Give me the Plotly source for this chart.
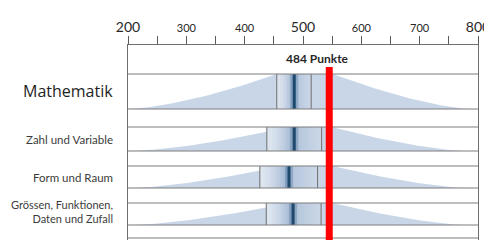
import numpy as np
import plotly.graph_objects as go

# ---- data ----
categories = ["Mathematik", "Zahl und Variable", "Form und Raum",
              "Grössen, Funktionen,<br>Daten und Zufall"]
means = [485, 485, 476, 483]
lower = [455, 438, 426, 437]
upper = [514, 532, 525, 531]
tail_start = [200, 205, 205, 205]
tail_end = [786, 776, 780, 778]
shoulder = [551, 550, 550, 550]
reference_value = 545
mean_label = "484 Punkte"
tick_vals = [200, 300, 400, 500, 600, 700, 800]
tick_big = [200, 500, 800]

# ---- layout constants (y in page pixels, reversed axis) ----
band_top = [74, 127, 166, 203]
band_bot = [109, 151, 188, 225]
row_lines = [74, 109, 127, 151, 166, 188, 203, 225, 238]
left_frac = [1.0, 0.8, 0.8, 0.8]
label_size = [16, 11.5, 11.5, 11]
label_font = ["Open Sans", "Lato", "Lato", "Lato"]
label_color = ["rgb(30,30,30)", "rgb(60,60,60)", "rgb(60,60,60)", "rgb(60,60,60)"]
label_y = [91, 139, 177, 211]

fill_col = "rgb(200,214,232)"
fig = go.Figure()

for i in range(len(categories)):
    top, bot = band_top[i], band_bot[i]
    h = bot - top
    # tail polygon
    t = np.linspace(0, 1, 40)
    xl = tail_start[i] + (lower[i] - tail_start[i]) * t
    yl = bot - h * left_frac[i] * t ** 1.5
    xr = shoulder[i] + (tail_end[i] - shoulder[i]) * t
    yr = bot - h * (1 - t) ** 1.45
    xs = np.concatenate([[tail_start[i]], xl, [lower[i], upper[i], shoulder[i]], xr, [tail_end[i]]])
    ys = np.concatenate([[bot], yl, [top, top, top], yr, [bot]])
    fig.add_trace(go.Scatter(x=xs, y=ys, fill="toself", fillcolor=fill_col,
                             line=dict(width=0), mode="lines", hoverinfo="skip",
                             showlegend=False))
    # gradient box (vertical strips)
    n = 20
    edges = np.linspace(lower[i], upper[i], n + 1)
    for k in range(n):
        xc = 0.5 * (edges[k] + edges[k + 1])
        if xc < means[i]:
            s = (xc - lower[i]) / (means[i] - lower[i])
            a = 0.12 + 0.6 * s ** 1.6
        else:
            s = (xc - means[i]) / (upper[i] - means[i])
            a = 0.5 - 0.22 * s
        c0 = np.array([238, 242, 248])
        c1 = np.array([118, 150, 190])
        c = (c0 + (c1 - c0) * a).astype(int)
        x0, x1 = edges[k], edges[k + 1] + 0.4
        fig.add_trace(go.Scatter(x=[x0, x1, x1, x0, x0], y=[top, top, bot, bot, top],
                                 fill="toself", fillcolor=f"rgb({c[0]},{c[1]},{c[2]})",
                                 line=dict(width=0), mode="lines", hoverinfo="skip",
                                 showlegend=False))
    # thin interval lines
    for v in (lower[i], upper[i]):
        fig.add_trace(go.Scatter(x=[v, v], y=[top, bot], mode="lines",
                                 line=dict(color="rgb(110,110,110)", width=1),
                                 hoverinfo="skip", showlegend=False))
    # mean line with halo
    fig.add_trace(go.Scatter(x=[means[i], means[i]], y=[top, bot], mode="lines",
                             line=dict(color="rgba(70,110,150,0.35)", width=8),
                             hoverinfo="skip", showlegend=False))
    fig.add_trace(go.Scatter(x=[means[i], means[i]], y=[top, bot], mode="lines",
                             line=dict(color="rgb(30,72,108)", width=3),
                             hoverinfo="skip", showlegend=False))

# row lines
for yv in row_lines:
    fig.add_trace(go.Scatter(x=[200, 800], y=[yv, yv], mode="lines",
                             line=dict(color="rgb(125,125,125)", width=1.2),
                             hoverinfo="skip", showlegend=False))

# reference line
fig.add_trace(go.Scatter(x=[reference_value, reference_value], y=[67, 240], mode="lines",
                         line=dict(color="rgb(255,0,0)", width=7),
                         hoverinfo="skip", showlegend=False))

annotations = []
for i, cat in enumerate(categories):
    annotations.append(dict(x=200, y=label_y[i], xref="x", yref="y", text=cat,
                            showarrow=False, xanchor="right", yanchor="middle",
                            xshift=-13, align="right",
                            font=dict(size=label_size[i], color=label_color[i],
                                      family=label_font[i])))
annotations.append(dict(x=525, y=58, xref="x", yref="y", text="<b>" + mean_label + "</b>",
                        showarrow=False, xanchor="center", yanchor="middle",
                        font=dict(size=12, color="rgb(40,40,40)", family="Lato")))

tick_text = [f"<span style='font-size:14px'>{v}</span>" if v in tick_big else str(v)
             for v in tick_vals]

# page body has an 8px margin: figure is 8px smaller and margins reduced by 8
fig.update_layout(
    width=484, height=232,
    margin=dict(l=120, r=14, t=37, b=0),
    paper_bgcolor="white", plot_bgcolor="white",
    annotations=annotations,
    font=dict(family="Lato", color="rgb(50,50,50)", size=11),
    xaxis=dict(range=[200, 800], side="top", tickvals=tick_vals, ticktext=tick_text,
               ticks="outside", ticklen=8, tickcolor="rgb(90,90,90)", tickwidth=1,
               showline=True, linecolor="rgb(110,110,110)", linewidth=1,
               showgrid=False, zeroline=False,
               minor=dict(dtick=50, tick0=200, ticks="outside", ticklen=8,
                          tickcolor="rgb(90,90,90)", tickwidth=1, showgrid=False),
               tickfont=dict(size=11, color="rgb(40,40,40)", family="Lato")),
    yaxis=dict(range=[240, 45], showline=True, mirror=True, linecolor="rgb(110,110,110)",
               linewidth=1, showticklabels=False, ticks="", showgrid=False, zeroline=False),
)

fig.write_html("out.html")
